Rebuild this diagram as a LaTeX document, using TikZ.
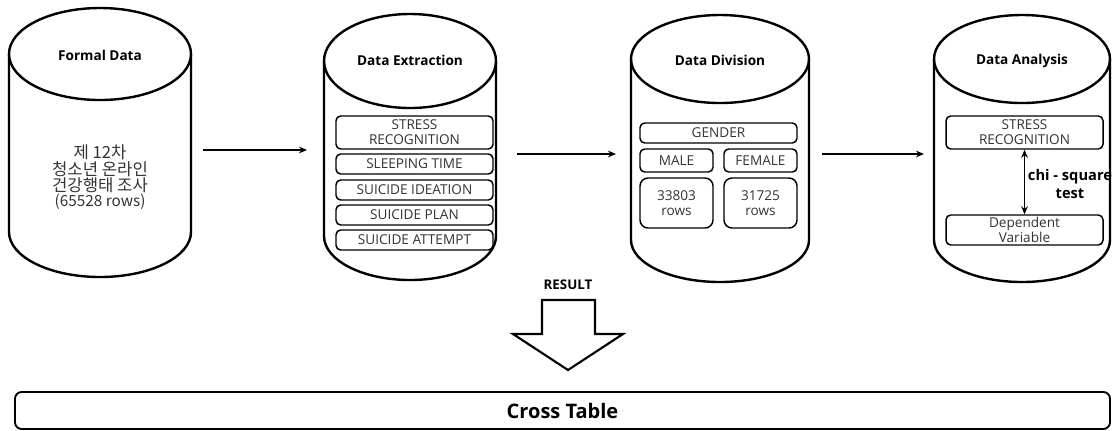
\documentclass[tikz,border=0pt]{standalone}
\usepackage{fontspec}
\setmainfont{Open Sans}
\newfontfamily\krfont{Noto Sans CJK KR}
\usetikzlibrary{arrows.meta}
\tikzset{
  cylline/.style={line width=1.8pt, black},
  title/.style={font=\fontsize{10.2}{12}\selectfont\bfseries, text=black},
  ibox/.style={draw, line width=1.1pt, rounded corners=3.5pt, inner sep=0pt,
    font=\fontsize{10.2}{11.25}\selectfont, text=black!80, align=center},
  arr/.style={line width=1.5pt, -{Stealth[length=6pt,width=5pt]}},
  darr/.style={line width=1.4pt, {Stealth[length=6pt,width=5pt]}-{Stealth[length=6pt,width=5pt]}},
}
% \drawcyl{cx}{rx}{topcy}{topry}{botcy}{botry}
\newcommand\drawcyl[6]{%
  \draw[cylline] (#1,#3) ellipse [x radius=#2, y radius=#4];
  \draw[cylline] (#1-#2,#3) -- (#1-#2,#5) arc [start angle=180, end angle=0, x radius=#2, y radius=#6] -- (#1+#2,#3);
}
\begin{document}
\begin{tikzpicture}[x=0.75pt,y=-0.75pt]
\useasboundingbox (0,0) rectangle (1112,430);
% cylinders
\drawcyl{100}{91}{54}{46}{232}{45}
\drawcyl{410}{86}{61}{47}{236}{44}
\drawcyl{720}{89}{59}{44}{240}{42}
\drawcyl{1022}{88}{59}{44}{240}{42}
% titles
\node[title] (t1) at (100,55) {Formal Data};
\node[title] (t2) at (410,60) {Data Extraction};
\node[title] (t3) at (720,60) {Data Division};
\node[title] (t4) at (1022,61) {Data Analysis};
% formal data text
\node[font=\fontsize{12.5}{11.25}\selectfont\krfont, text=black!80, align=center] (kr) at (100,177.5)
  {제 12차\\청소년 온라인\\건강행태 조사\\{\fontsize{11.5}{11.25}\selectfont(65528 rows)}};
% extraction boxes
\node[ibox, minimum width=117.75pt, minimum height=24.75pt] (e1) at (414.5,132.5) {STRESS\\RECOGNITION};
\node[ibox, minimum width=117.75pt, minimum height=15pt] (e2) at (414.5,164) {SLEEPING TIME};
\node[ibox, minimum width=117.75pt, minimum height=15pt] (e3) at (414.5,190) {SUICIDE IDEATION};
\node[ibox, minimum width=117.75pt, minimum height=15pt] (e4) at (414.5,215) {SUICIDE PLAN};
\node[ibox, minimum width=117.75pt, minimum height=15pt] (e5) at (414.5,240) {SUICIDE ATTEMPT};
% division boxes
\node[ibox, minimum width=117.75pt, minimum height=15pt] (g) at (718.5,133) {GENDER};
\node[ibox, minimum width=54.75pt, minimum height=17.25pt] (m) at (676.5,160.5) {MALE};
\node[ibox, minimum width=54.75pt, minimum height=17.25pt] (f) at (760.5,160.5) {FEMALE};
\node[ibox, rounded corners=6pt, minimum width=54.75pt, minimum height=37.5pt] (mr) at (676.5,203) {33803\\rows};
\node[ibox, rounded corners=6pt, minimum width=54.75pt, minimum height=37.5pt] (fr) at (760.5,203) {31725\\rows};
% analysis boxes
\node[ibox, minimum width=117.75pt, minimum height=24.75pt] (s4) at (1024.5,132.5) {STRESS\\RECOGNITION};
\node[ibox, minimum width=117.75pt, minimum height=22.5pt] (dv) at (1024.5,230) {Dependent\\Variable};
\draw[darr] (s4.south) -- (dv.north);
\node[font=\fontsize{11}{13.5}\selectfont\bfseries, align=center] (chi) at (1070,184) {chi - square\\test};
% arrows between cylinders
\coordinate (a1s) at (203,150); \coordinate (a1e) at (307,150);
\coordinate (a2s) at (517,154); \coordinate (a2e) at (616,154);
\coordinate (a3s) at (822,154); \coordinate (a3e) at (924,154);
\draw[arr] (a1s) -- (a1e);
\draw[arr] (a2s) -- (a2e);
\draw[arr] (a3s) -- (a3e);
% result arrow
\node[font=\fontsize{10}{11}\selectfont\bfseries] (res) at (568,285) {RESULT};
\draw[line width=1.6pt, line join=miter] (542,300) -- (595,300) -- (595,334) -- (623,334) -- (568,370) -- (513,334) -- (542,334) -- cycle;
% cross table
\node[draw, line width=1.4pt, rounded corners=5pt, minimum width=821.25pt, minimum height=27.75pt,
  font=\fontsize{15}{17}\selectfont\bfseries] (ct) at (562.5,410.5) {Cross Table};
\end{tikzpicture}
\end{document}
